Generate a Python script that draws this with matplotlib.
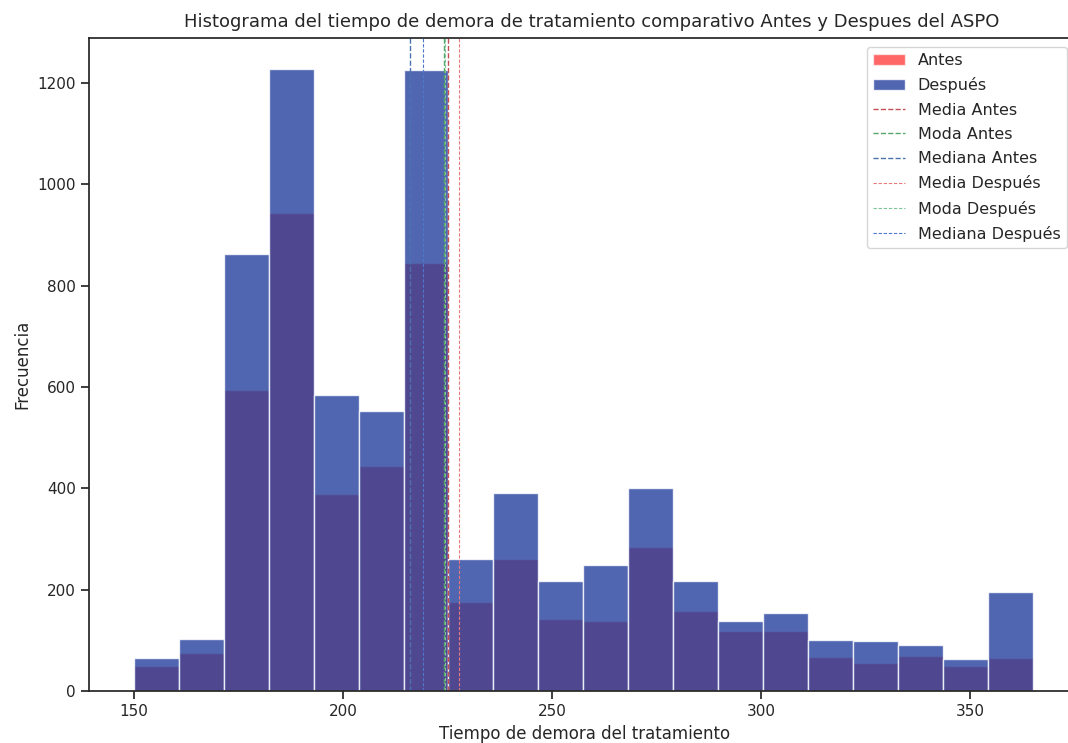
import numpy as np
import matplotlib
matplotlib.use("Agg")
import matplotlib.pyplot as plt
import seaborn as sns

# Bin edges of the treatment-delay histogram (20 bins)
bin_start = 150
bin_end = 365
n_bins = 20

# Counts per bin before ASPO
antes_counts = [50, 75, 594, 943, 388, 445, 844, 176, 260, 143,
                139, 284, 158, 118, 118, 67, 55, 69, 50, 65]
# Counts per bin after ASPO
despues_counts = [65, 103, 863, 1228, 585, 553, 1226, 261, 391, 217,
                  248, 401, 217, 139, 154, 101, 99, 90, 63, 195]

# Summary statistics
media_antes = 225.2
moda_antes = 224.2
mediana_antes = 216.0
media_despues = 227.75
moda_despues = 224.4
mediana_despues = 219.1

sns.set_theme(style="ticks", context="notebook")
plt.rcParams["font.family"] = ["DejaVu Sans"]
plt.rcParams["savefig.bbox"] = "standard"

edges = np.linspace(bin_start, bin_end, n_bins + 1)
left = edges[:-1]

W, H = 1068, 743
fig = plt.figure(figsize=(W / 100, H / 100), dpi=100)
# axes run up to the right edge of the canvas
ax = fig.add_axes([89 / W, 52 / H, (W - 89) / W, 653.3 / H])
ax.spines["right"].set_visible(False)

ax.hist(left, bins=edges, weights=antes_counts, color="red", alpha=0.6,
        edgecolor="white", linewidth=1, label="Antes")
ax.hist(left, bins=edges, weights=despues_counts, color="#24409c", alpha=0.8,
        edgecolor="white", linewidth=1, label="Después")

fine_dash = (0, (3, 1.6))
ax.axvline(media_antes, color="#c44e52", linestyle="--", linewidth=1, label="Media Antes")
ax.axvline(moda_antes, color="#55a868", linestyle="--", linewidth=1, label="Moda Antes")
ax.axvline(mediana_antes, color="#4c72b0", linestyle="--", linewidth=1, label="Mediana Antes")
ax.axvline(media_despues, color="#e87a7e", linestyle=fine_dash, linewidth=0.8, label="Media Después")
ax.axvline(moda_despues, color="#7cc596", linestyle=fine_dash, linewidth=0.8, label="Moda Después")
ax.axvline(mediana_despues, color="#4f78cc", linestyle=fine_dash, linewidth=0.8, label="Mediana Después")

margin = 0.05 * (bin_end - bin_start)
ax.set_xlim(bin_start - margin, bin_start - margin + (W - 89) / 4.18)

title = ax.set_title("Histograma del tiempo de demora de tratamiento comparativo Antes y Despues del ASPO",
                     fontsize=13, pad=8)
title.set_x((592 - 89) / (W - 89))
ax.set_xlabel("Tiempo de demora del tratamiento", labelpad=4.5)
ax.xaxis.label.set_x((585 - 89) / (W - 89))
ax.set_ylabel("Frecuencia")
ax.legend(loc="upper right", bbox_to_anchor=(1067 / W, 1 - 46.7 / H),
          bbox_transform=fig.transFigure, borderaxespad=0, fontsize=11.5,
          labelspacing=0.58)

fig.savefig("out.png", dpi=100)
